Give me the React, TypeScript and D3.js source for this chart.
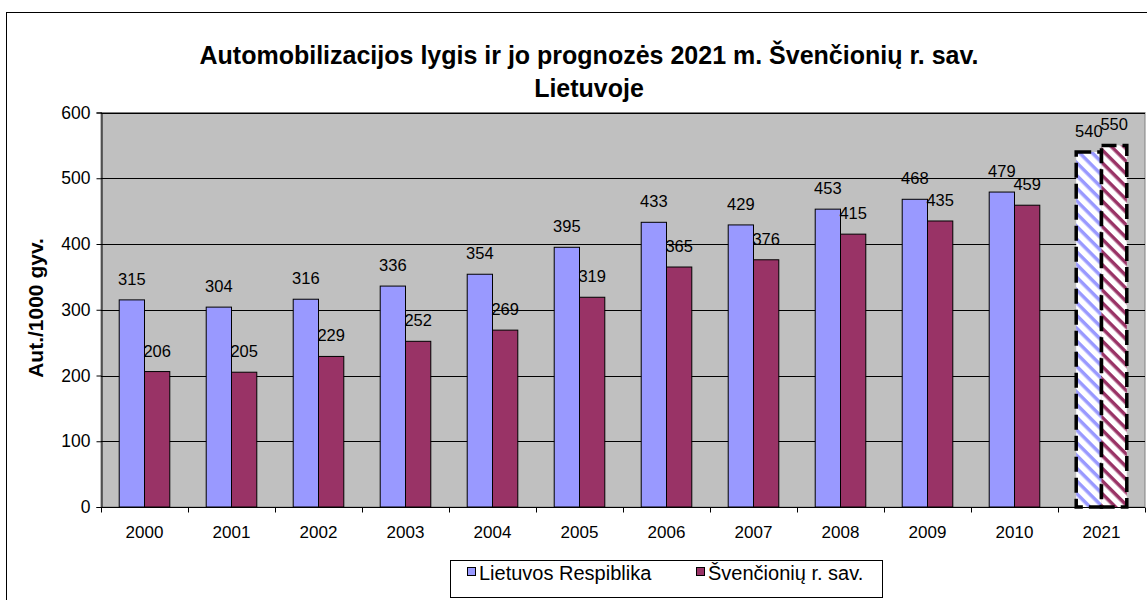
import { useEffect, useRef } from "react";
import * as d3 from "d3";

const years = ["2000", "2001", "2002", "2003", "2004", "2005", "2006", "2007", "2008", "2009", "2010", "2021"];
const lietuva = [315, 304, 316, 336, 354, 395, 433, 429, 453, 468, 479, 540];
const svencionys = [206, 205, 229, 252, 269, 319, 365, 376, 415, 435, 459, 550];
const seriesNames = ["Lietuvos Respiblika", "Švenčionių r. sav."];
const forecastYear = "2021";
const yTicks = [0, 100, 200, 300, 400, 500, 600];

const FONT = "Arial, 'Liberation Sans', sans-serif";
const colors = ["#9999FF", "#993366"];

const App: React.FC = () => {
  const svgRef = useRef<SVGSVGElement>(null);

  useEffect(() => {
    const w = 1147;
    const h = 600;
    const svg = d3.select(svgRef.current).attr("width", w).attr("height", h);
    svg.selectAll("*").remove();

    const left = 101;
    const right = 1145;
    const top = 112.5;
    const bottom = 507;

    // hatch patterns for the forecast bars
    const defs = svg.append("defs");
    colors.forEach((c, i) => {
      const p = defs
        .append("pattern")
        .attr("id", "hatch" + i)
        .attr("patternUnits", "userSpaceOnUse")
        .attr("width", 9)
        .attr("height", 9)
        .attr("patternTransform", "rotate(45)");
      p.append("rect").attr("width", 9).attr("height", 9).attr("fill", "white");
      p.append("rect").attr("width", 9).attr("height", 3.5).attr("fill", c);
    });

    // outer frame
    svg
      .append("rect")
      .attr("x", 6.5)
      .attr("y", 12.5)
      .attr("width", 1200)
      .attr("height", 650)
      .attr("fill", "white")
      .attr("stroke", "black")
      .attr("stroke-width", 1);

    const x = d3.scaleBand().domain(years).range([left, right]).paddingInner(0).paddingOuter(0);
    const xs = d3
      .scaleBand()
      .domain(["0", "1"])
      .range([0, x.bandwidth()])
      .paddingInner(0)
      .paddingOuter(0.72);
    const y = d3.scaleLinear().domain([0, 600]).range([bottom, top]);

    // plot background
    svg
      .append("rect")
      .attr("x", left)
      .attr("y", top)
      .attr("width", right - left)
      .attr("height", bottom - top)
      .attr("fill", "#C0C0C0")
      .attr("stroke", "#808080");

    // gridlines
    svg
      .append("g")
      .selectAll("line")
      .data(yTicks.filter((t) => t > 0))
      .join("line")
      .attr("x1", left)
      .attr("x2", right)
      .attr("y1", (d) => Math.round(y(d)) + 0.5)
      .attr("y2", (d) => Math.round(y(d)) + 0.5)
      .attr("stroke", "black");

    // y axis
    const yAxis = d3.axisLeft(y).tickValues(yTicks).tickSize(5).tickPadding(6);
    const gy = svg.append("g").attr("transform", `translate(${left + 0.5},0)`).call(yAxis);
    gy.select(".domain").attr("stroke", "black");
    gy.selectAll("text").attr("font-family", FONT).attr("font-size", 17.5).attr("fill", "black");

    // x axis
    const gx = svg.append("g").attr("transform", `translate(0,${bottom + 0.5})`);
    gx.append("line").attr("x1", left).attr("x2", right).attr("stroke", "black");
    gx.selectAll("line.tick")
      .data([...years.map((d) => x(d) as number), right])
      .join("line")
      .attr("class", "tick")
      .attr("x1", (d) => Math.round(d) + 0.5)
      .attr("x2", (d) => Math.round(d) + 0.5)
      .attr("y1", 0)
      .attr("y2", 5)
      .attr("stroke", "black");
    gx.selectAll("text")
      .data(years)
      .join("text")
      .attr("x", (d) => (x(d) as number) + x.bandwidth() / 2)
      .attr("y", 30)
      .attr("text-anchor", "middle")
      .attr("font-family", FONT)
      .attr("font-size", 17)
      .text((d) => d);

    // bars and value labels
    const series = [lietuva, svencionys];
    series.forEach((vals, si) => {
      const rows = years.map((yr, i) => ({ yr, v: vals[i] }));
      const g = svg.append("g");
      g.selectAll("rect")
        .data(rows)
        .join("rect")
        .attr("x", (d) => (x(d.yr) as number) + (xs(String(si)) as number))
        .attr("y", (d) => y(d.v))
        .attr("width", xs.bandwidth())
        .attr("height", (d) => bottom - y(d.v))
        .attr("fill", (d) => (d.yr === forecastYear ? `url(#hatch${si})` : colors[si]))
        .attr("stroke", "black")
        .attr("stroke-width", (d) => (d.yr === forecastYear ? 3.5 : 1))
        .attr("stroke-dasharray", (d) => (d.yr === forecastYear ? "15,6" : null));
      g.selectAll("text")
        .data(rows)
        .join("text")
        .attr("x", (d) => (x(d.yr) as number) + (xs(String(si)) as number) + xs.bandwidth() / 2)
        .attr("y", (d) => y(d.v) - 15)
        .attr("text-anchor", "middle")
        .attr("font-family", FONT)
        .attr("font-size", 16.5)
        .text((d) => d.v);
    });

    // title
    const title = svg
      .append("text")
      .attr("text-anchor", "middle")
      .attr("font-family", FONT)
      .attr("font-size", 25)
      .attr("font-weight", "bold");
    title.append("tspan").attr("x", 589).attr("y", 64).text("Automobilizacijos lygis ir jo prognozės 2021 m. Švenčionių r. sav.");
    title.append("tspan").attr("x", 589).attr("y", 97).text("Lietuvoje");

    // y label
    svg
      .append("text")
      .attr("transform", `translate(43,308) rotate(-90)`)
      .attr("text-anchor", "middle")
      .attr("font-family", FONT)
      .attr("font-size", 21)
      .attr("font-weight", "bold")
      .text("Aut./1000 gyv.");

    // legend
    const lg = svg.append("g");
    lg.append("rect")
      .attr("x", 450.5)
      .attr("y", 560.5)
      .attr("width", 432)
      .attr("height", 37)
      .attr("fill", "white")
      .attr("stroke", "black");
    const legendX = [467, 696];
    seriesNames.forEach((name, i) => {
      lg.append("rect")
        .attr("x", legendX[i] + 0.5)
        .attr("y", 567.5)
        .attr("width", 8)
        .attr("height", 8)
        .attr("fill", colors[i])
        .attr("stroke", "black");
      lg.append("text")
        .attr("x", legendX[i] + 12)
        .attr("y", 580)
        .attr("font-family", FONT)
        .attr("font-size", 20)
        .text(name);
    });

    return () => {
      svg.selectAll("*").remove();
    };
  }, []);

  return (
    <div style={{ position: "absolute", left: 0, top: 0 }}>
      <svg ref={svgRef} style={{ display: "block" }} />
    </div>
  );
};

export default App;
